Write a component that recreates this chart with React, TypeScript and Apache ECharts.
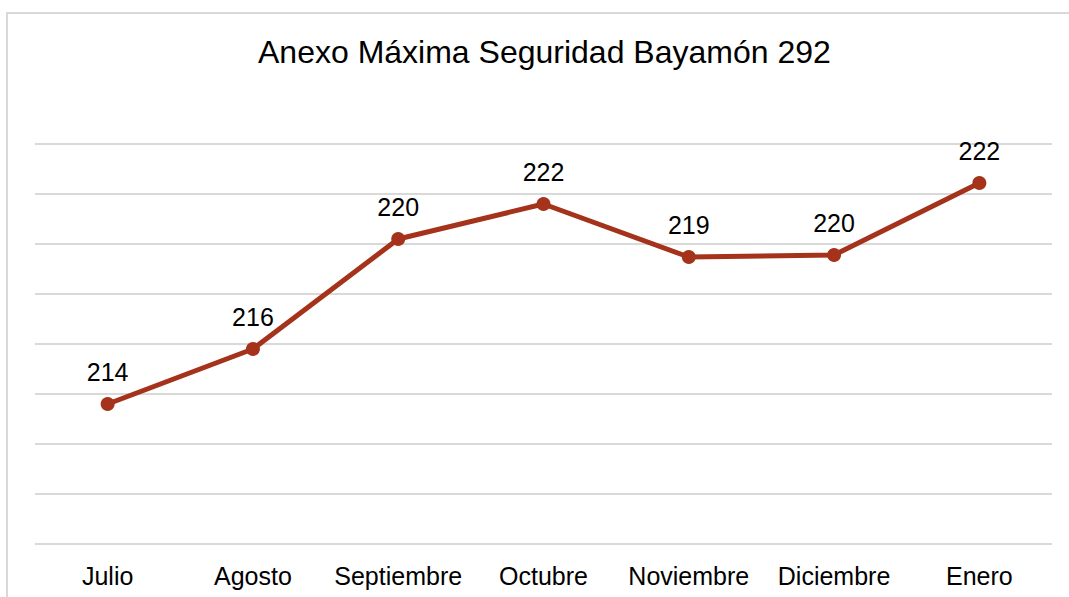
import React, { useEffect, useRef } from "react";
import * as echarts from "echarts";

const categories = ["Julio", "Agosto", "Septiembre", "Octubre", "Noviembre", "Diciembre", "Enero"];
const values = [213.6, 215.8, 220.2, 221.6, 219.48, 219.56, 222.44];
const titleText = "Anexo Máxima Seguridad Bayamón 292";

export default function App() {
  const ref = useRef<HTMLDivElement>(null);
  useEffect(() => {
    document.body.style.margin = "0";
    const chart = echarts.init(ref.current!, null, { renderer: "svg" });
    chart.setOption({
      animation: false,
      backgroundColor: "#ffffff",
      title: {
        text: titleText,
        left: 253,
        top: 31,
        textStyle: { fontFamily: "Liberation Sans, Arial", fontSize: 32, fontWeight: "normal", color: "#000000" },
      },
      graphic: [
        {
          type: "rect",
          shape: { x: 7, y: 13, width: 1080, height: 600 },
          style: { fill: "none", stroke: "#d9d9d9", lineWidth: 2 },
          silent: true,
        },
      ],
      grid: { left: 35, right: 17, top: 144, bottom: 53 },
      xAxis: {
        type: "category",
        data: categories,
        boundaryGap: true,
        axisLine: { show: false },
        axisTick: { show: false },
        axisLabel: { interval: 0, color: "#000000", fontSize: 25, fontFamily: "Liberation Sans, Arial", margin: 19 },
      },
      yAxis: {
        type: "value",
        min: 208,
        max: 224,
        interval: 2,
        axisLabel: { show: false },
        axisLine: { show: false },
        axisTick: { show: false },
        splitLine: { lineStyle: { color: "#d9d9d9", width: 2 } },
      },
      series: [
        {
          type: "line",
          data: values,
          symbol: "circle",
          symbolSize: 14,
          lineStyle: { color: "#a5321a", width: 5 },
          itemStyle: { color: "#a5321a" },
          label: {
            show: true,
            position: "top",
            distance: 13,
            fontSize: 25,
            fontFamily: "Liberation Sans, Arial",
            color: "#000000",
            formatter: (p: any) => String(Math.round(p.value)),
          },
        },
      ],
    });
    return () => chart.dispose();
  }, []);
  return <div ref={ref} style={{ width: 1069, height: 597 }} />;
}
